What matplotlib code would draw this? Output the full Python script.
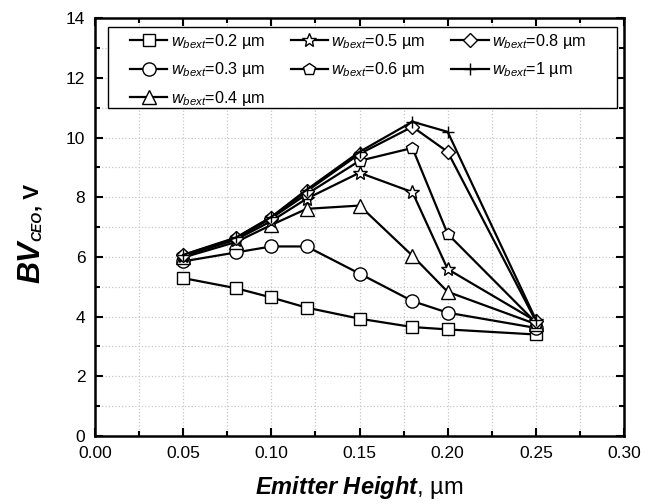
import matplotlib.pyplot as plt
from matplotlib.ticker import MultipleLocator
from matplotlib.patches import Rectangle

plt.rcParams['font.family'] = ['Liberation Sans', 'DejaVu Sans']
plt.rcParams['mathtext.fontset'] = 'custom'
plt.rcParams['mathtext.rm'] = 'Liberation Sans'
plt.rcParams['mathtext.it'] = 'Liberation Sans:italic'
plt.rcParams['mathtext.bf'] = 'Liberation Sans:bold'
plt.rcParams['mathtext.bfit'] = 'Liberation Sans:italic:bold'

# emitter height, um
height = [0.05, 0.08, 0.10, 0.12, 0.15, 0.18, 0.20, 0.25]

# BV_CEO (V) for each w_bext
bv_02 = [5.29, 4.95, 4.64, 4.30, 3.93, 3.65, 3.57, 3.40]
bv_03 = [5.85, 6.15, 6.35, 6.35, 5.44, 4.52, 4.13, 3.62]
bv_04 = [5.98, 6.50, 7.07, 7.61, 7.72, 6.04, 4.83, 3.75]
bv_05 = [6.03, 6.58, 7.20, 7.95, 8.82, 8.17, 5.59, 3.85]
bv_06 = [6.05, 6.62, 7.30, 8.10, 9.22, 9.65, 6.77, 3.80]
bv_08 = [6.06, 6.63, 7.32, 8.20, 9.45, 10.36, 9.52, 3.85]
bv_10 = [6.07, 6.65, 7.34, 8.25, 9.52, 10.53, 10.19, 3.90]

series = [
    (bv_02, 's', 9, '0.2'),
    (bv_03, 'o', 9.5, '0.3'),
    (bv_04, '^', 9.5, '0.4'),
    (bv_05, '*', 10, '0.5'),
    (bv_06, 'p', 9, '0.6'),
    (bv_08, 'D', 7.5, '0.8'),
    (bv_10, '+', 8, '1'),
]

W, H = 651, 504
fig = plt.figure(figsize=(W / 100, H / 100), dpi=100)
ax = fig.add_axes([0.146, 0.135, 0.8125, 0.829])

for vals, mk, size, w in series:
    ax.plot(height, vals, color='black', lw=1.6, marker=mk, markersize=size,
            markerfacecolor='white', markeredgecolor='black', markeredgewidth=1.0,
            label=r'$\it{w}_{\it{bext}}$=' + w + ' \u00b5m')

ax.set_xlim(0, 0.30)
ax.set_ylim(0, 14)
ax.xaxis.set_major_locator(MultipleLocator(0.05))
ax.xaxis.set_minor_locator(MultipleLocator(0.025))
ax.yaxis.set_major_locator(MultipleLocator(2))
ax.yaxis.set_minor_locator(MultipleLocator(1))
ax.xaxis.set_major_formatter(lambda v, p: '%.2f' % v)
ax.grid(which='both', color='#c8c8c8', linestyle=':', linewidth=0.9)
ax.set_axisbelow(True)
ax.tick_params(which='both', direction='in', top=True, right=True, labelsize=12.5, width=1.5)
ax.tick_params(which='major', length=6, pad=7)
ax.tick_params(which='minor', length=3.5)
for sp in ax.spines.values():
    sp.set_linewidth(1.8)

ax.set_xlabel('$\\mathbfit{Emitter\\ Height}$, \u00b5m', fontsize=17)
ax.xaxis.set_label_coords(0.5, -0.09)

# y label: big BV, small CEO subscript, then ", V"
renderer = fig.canvas.get_renderer()
base_x = 39 / W
t1 = fig.text(base_x, 1 - 283 / H, 'BV', rotation=90, rotation_mode='anchor',
              ha='left', va='baseline', fontsize=22, fontweight='bold', fontstyle='italic')
y_next = t1.get_window_extent(renderer).y1 / H
t2 = fig.text(base_x + 2 / W, y_next, 'CEO', rotation=90, rotation_mode='anchor',
              ha='left', va='baseline', fontsize=10, fontweight='bold', fontstyle='italic')
y_next = t2.get_window_extent(renderer).y1 / H
fig.text(base_x, y_next, ', V', rotation=90, rotation_mode='anchor',
         ha='left', va='baseline', fontsize=16, fontweight='bold')

# legend frame drawn separately so it can be wider than the entries
ax.add_patch(Rectangle((0.0246, 0.785), 0.962, 0.194, transform=ax.transAxes,
                       facecolor='white', edgecolor='black', lw=1.0, zorder=4))
leg = ax.legend(ncol=3, loc='upper left', bbox_to_anchor=(0.066, 0.968), fontsize=11.7,
                frameon=False, handlelength=2.3, handletextpad=0.2,
                columnspacing=1.6, borderpad=0, borderaxespad=0, labelspacing=0.6)
leg.set_zorder(5)

fig.savefig('out.png', dpi=100)
